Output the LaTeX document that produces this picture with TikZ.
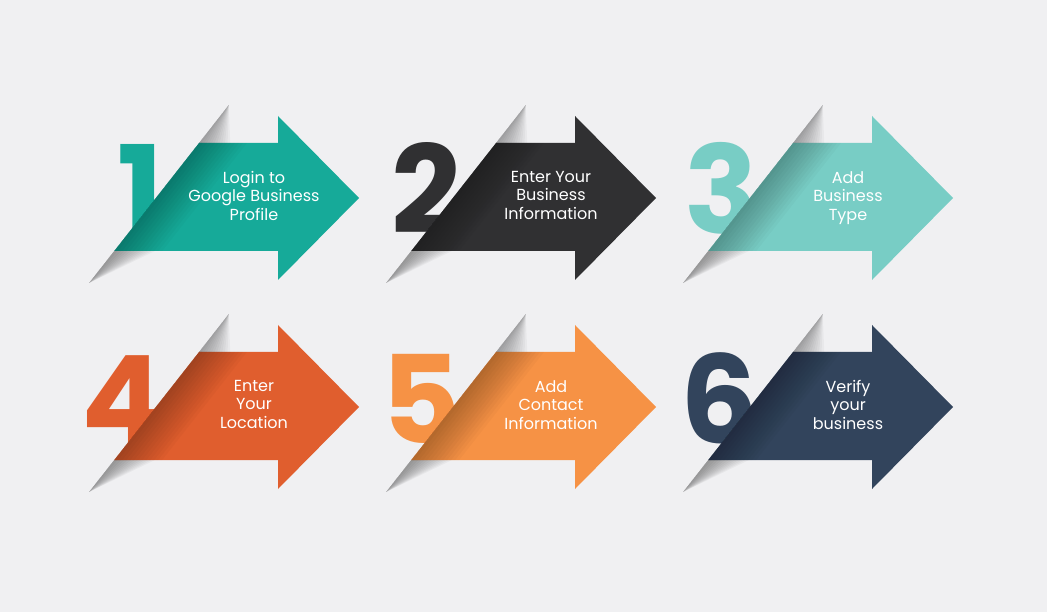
\documentclass[tikz,border=0pt]{standalone}
\usepackage{fontspec}
\setmainfont{Poppins}

\definecolor{pageGrey}{RGB}{240,240,242}
\definecolor{stepTeal}{RGB}{22,170,153}
\definecolor{stepCharcoal}{RGB}{48,48,50}
\definecolor{stepMint}{RGB}{120,205,197}
\definecolor{stepRust}{RGB}{224,94,46}
\definecolor{stepOrange}{RGB}{246,146,69}
\definecolor{stepNavy}{RGB}{50,68,92}

\tikzset{every picture/.style={line width=0.35pt},
  stepArrow/.style={fill=#1, draw=none},
  stepNum/.style={text=#1, font=\fontsize{122}{122}\selectfont\bfseries, inner sep=0pt, anchor=base east},
  stepText/.style={text=white, font=\fontsize{16}{18.5}\selectfont, align=center, inner sep=0pt, anchor=north},
  stepShade/.style={fill=black, draw=none, opacity=#1}
}

\begin{document}
\begin{tikzpicture}[x=1pt,y=1pt,yscale=-1]
  \fill[pageGrey] (0,0) rectangle (1047,612);

  \foreach \tx/\ty/\col/\num/\txt in {
      359/198/stepTeal/1/{Login to\\Google Business\\Profile},
      656/198/stepCharcoal/2/{Enter Your\\Business\\Information},
      953/198/stepMint/3/{Add\\Business\\Type},
      359/407/stepRust/4/{Enter\\Your\\Location},
      656/407/stepOrange/5/{Add\\Contact\\Information},
      953/407/stepNavy/6/{Verify\\your\\business}}{
    \begin{scope}[shift={(\tx,\ty)}]
      \node[stepNum=\col] (n\num) at (-195,36) {\num};

      % fold shadow above and below the shaft
      \foreach \k in {1,...,12}{
        \fill[stepShade=0.03] (-130.2,-93) -- (-160,-55) -- ({-160+2.6*\k},-55) -- cycle;
        \fill[stepShade=0.035] (-244.8,53) -- (-269.9,85) -- ({-244.8+3.4*\k},53) -- cycle;
      }

      \fill[stepArrow=\col] (-160,-55) -- (-81,-55) -- (-81,-82) -- (0,0) -- (-81,82) -- (-81,53) -- (-244.8,53) -- cycle;

      % darker edge along the cut
      \foreach \k in {1,...,12}{
        \fill[stepShade=0.022] (-160,-55) -- ({-160+4*\k},-55) -- ({-244.8+4*\k},53) -- (-244.8,53) -- cycle;
      }

      \node[stepText] (t\num) at (-105,-27) {\txt};
    \end{scope}
  }
\end{tikzpicture}
\end{document}
